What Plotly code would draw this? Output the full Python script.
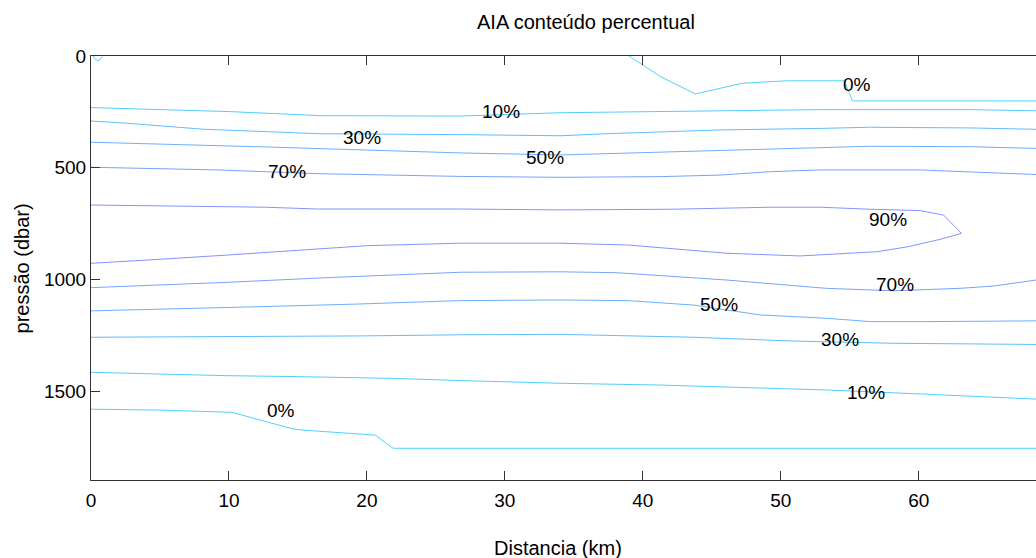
import plotly.graph_objects as go

# ---------------- data: contour lines (distance km, pressure dbar) ----------------
levels = [0, 10, 30, 50, 70, 90]

dist_0_top = [39.0, 41.3, 43.8, 47.2, 50.4, 54.6, 55.2, 68.5, 70.0]
pres_0_top = [0, 93, 170, 122, 111, 111, 201, 201, 201]

dist_0_corner = [0.16, 0.3, 0.5, 0.7, 0.81]
pres_0_corner = [0, 15, 21, 14, 2]

dist_10_top = [0, 5.5, 10.1, 16.6, 26.8, 34.0, 45.6, 52.9, 63.7, 68.5, 70.0]
pres_10_top = [231, 242, 249, 267, 269, 254, 246, 240, 240, 245, 247]

dist_30_top = [0, 2.6, 8.2, 13.7, 16.6, 26.8, 34.0, 38.2, 45.6, 52.9, 56.5, 63.7, 68.5, 70.0]
pres_30_top = [291, 301, 328, 342, 348, 352, 357, 346, 331, 324, 319, 322, 328, 330]

dist_50_top = [0, 5.5, 10.1, 13.7, 20.0, 23.9, 26.8, 34.0, 38.2, 45.6, 52.9, 56.5, 63.7, 68.5, 70.0]
pres_50_top = [386, 394, 403, 409, 421, 430, 434, 443, 436, 421, 409, 404, 406, 413, 416]

dist_70_top = [0, 5.5, 9.2, 16.6, 20.9, 23.9, 26.8, 34.0, 41.3, 45.6, 49.2, 52.9, 60.1, 63.7, 68.5, 70.0]
pres_70_top = [498, 506, 510, 527, 531, 537, 539, 543, 540, 533, 518, 510, 510, 519, 530, 534]

dist_90 = [0, 5.5, 12.7, 16.4, 26.8, 34.0, 42.0, 49.2, 52.9, 56.5, 60.1, 61.8, 63.1,
           61.6, 59.2, 57.0, 51.4, 46.1, 38.9, 34.0, 26.8, 20.0, 14.7, 9.9, 5.0, 0]
pres_90 = [667, 670, 677, 685, 685, 689, 686, 677, 677, 686, 692, 712, 794,
           820, 854, 876, 895, 883, 846, 838, 838, 849, 872, 891, 910, 928]

dist_70_bot = [0, 5.0, 9.9, 17.2, 21.9, 26.8, 34.0, 38.1, 46.1, 53.3, 58.2, 63.0, 65.4, 68.5, 70.0]
pres_70_bot = [1037, 1025, 1013, 992, 980, 968, 966, 970, 1003, 1040, 1051, 1040, 1030, 1003, 995]

dist_50_bot = [0, 5.0, 12.3, 19.5, 26.8, 34.0, 38.9, 43.7, 48.5, 53.3, 56.5, 60.6, 68.5, 70.0]
pres_50_bot = [1141, 1134, 1122, 1110, 1095, 1092, 1095, 1115, 1159, 1174, 1189, 1189, 1185, 1185]

dist_30_bot = [0, 12.3, 19.5, 26.8, 34.0, 43.7, 50.9, 58.2, 68.5, 70.0]
pres_30_bot = [1259, 1256, 1253, 1248, 1246, 1259, 1276, 1286, 1291, 1292]

dist_10_bot = [0, 2.6, 9.9, 14.7, 21.9, 26.8, 34.0, 41.3, 48.5, 53.3, 60.6, 68.5, 70.0]
pres_10_bot = [1416, 1420, 1431, 1435, 1443, 1453, 1465, 1473, 1485, 1495, 1514, 1537, 1540]

dist_0_bot = [0, 5.0, 10.2, 14.5, 15.2, 20.6, 21.9, 68.5, 70.0]
pres_0_bot = [1581, 1585, 1595, 1667, 1674, 1697, 1756, 1756, 1756]

# contour labels
label_text = ["0%", "10%", "30%", "50%", "70%", "90%", "70%", "50%", "30%", "10%", "0%"]
label_dist = [55.5, 29.7, 19.65, 32.9, 14.2, 57.8, 58.3, 45.5, 54.3, 56.2, 13.8]
label_pres = [126, 249, 363, 454, 518, 730, 1021, 1113, 1271, 1506, 1589]

x_ticks = [0, 10, 20, 30, 40, 50, 60]
y_ticks = [0, 500, 1000, 1500]

title_text = "AIA conteúdo percentual"
xlabel_text = "Distancia (km)"
ylabel_text = "pressão (dbar)"

# colour stops for the contour levels (light cyan -> lavender blue)
C_LOW = (75, 212, 250)
C_HIGH = (130, 148, 255)


def level_color(v):
    f = v / 90.0
    r, g, b = (int(round(a + (c - a) * f)) for a, c in zip(C_LOW, C_HIGH))
    return f"rgb({r},{g},{b})"


lines = [
    (dist_0_top, pres_0_top, 0),
    (dist_0_corner, pres_0_corner, 0),
    (dist_10_top, pres_10_top, 10),
    (dist_30_top, pres_30_top, 30),
    (dist_50_top, pres_50_top, 50),
    (dist_70_top, pres_70_top, 70),
    (dist_90, pres_90, 90),
    (dist_70_bot, pres_70_bot, 70),
    (dist_50_bot, pres_50_bot, 50),
    (dist_30_bot, pres_30_bot, 30),
    (dist_10_bot, pres_10_bot, 10),
    (dist_0_bot, pres_0_bot, 0),
]

fig = go.Figure()
for xs, ys, lv in lines:
    fig.add_trace(go.Scatter(x=xs, y=ys, mode="lines",
                             line=dict(color=level_color(lv), width=1),
                             showlegend=False, hoverinfo="skip"))

FONT = "Liberation Sans, Arial, Helvetica, sans-serif"

annotations = []
for t, xd, yd in zip(label_text, label_dist, label_pres):
    annotations.append(dict(x=xd, y=yd, xref="x", yref="y", text=t, showarrow=False,
                            font=dict(family=FONT, size=19, color="black"),
                            xanchor="center", yanchor="middle"))

annotations += [
    dict(text=title_text, x=0.5236, y=1.080, xref="paper", yref="paper", showarrow=False,
         xanchor="center", yanchor="middle", font=dict(family=FONT, size=20, color="black")),
    dict(text=xlabel_text, x=0.494, y=-0.160, xref="paper", yref="paper", showarrow=False,
         xanchor="center", yanchor="middle", font=dict(family=FONT, size=20, color="black")),
    dict(text=ylabel_text, x=-0.0725, y=0.5, xref="paper", yref="paper", showarrow=False,
         textangle=-90, xanchor="center", yanchor="middle",
         font=dict(family=FONT, size=20, color="black")),
]

fig.update_layout(
    width=1036, height=558,
    margin=dict(l=91, r=0, t=56, b=78),
    paper_bgcolor="white", plot_bgcolor="white",
    annotations=annotations,
    xaxis=dict(range=[0, 68.5], tickvals=x_ticks, ticks="inside", ticklen=9,
               tickcolor="#333", showline=True, linecolor="#333", linewidth=1,
               mirror="ticks", showgrid=False, zeroline=False, automargin=False,
               ticklabelstandoff=3,
               tickfont=dict(family=FONT, size=19, color="black")),
    yaxis=dict(range=[1898, 0], tickvals=y_ticks, ticks="inside", ticklen=9,
               tickcolor="#333", showline=True, linecolor="#333", linewidth=1,
               mirror=False, showgrid=False, zeroline=False, automargin=False,
               tickfont=dict(family=FONT, size=19, color="black")),
)

# remove the default page margin so the 1036x558 figure fills the window exactly
fig.write_html("out.html",
               config={"displayModeBar": False},
               post_script="document.body.style.margin='0';document.body.style.overflow='hidden';")
